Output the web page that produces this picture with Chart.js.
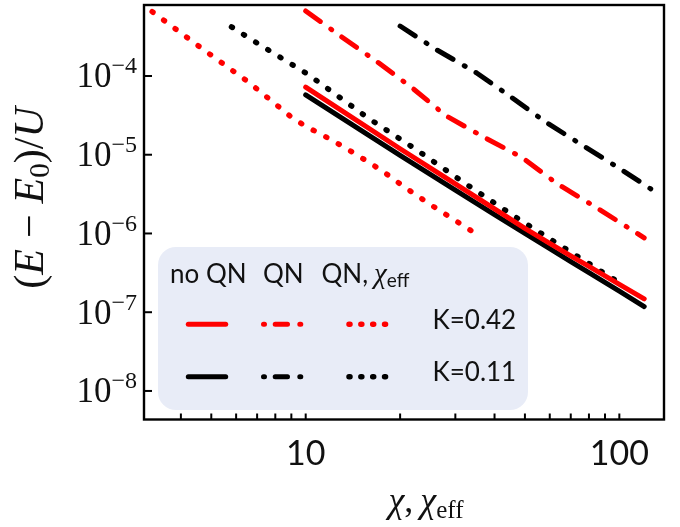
<!DOCTYPE html>
<html>
<head>
<meta charset="utf-8">
<script src="https://cdn.jsdelivr.net/npm/chart.js@4.4.1/dist/chart.umd.min.js"></script>
<style>
	html, body { margin: 0; padding: 0; background: #fff; }
	#wrap { width: 680px; height: 527px; }
</style>
</head>
<body>
<div id="wrap"><canvas id="chart" width="680" height="527"></canvas></div>
<script>

// values: chi (x) and (E - E0)/U (y)
const chiNoQN = [10, 20, 30, 40, 50, 60, 70, 80, 100, 120];
const errNoQN042 = [7.2e-5, 1.19e-5, 4.27e-6, 2.05e-6, 1.16e-6, 7.5e-7, 5.2e-7, 3.82e-7, 2.26e-7, 1.48e-7];
const errNoQN011 = [5.74e-5, 9.8e-6, 3.56e-6, 1.74e-6, 1.0e-6, 6.4e-7, 4.4e-7, 3.18e-7, 1.85e-7, 1.18e-7];

const chiQN042 = [10, 13, 17, 22, 28, 37, 49, 63, 83, 120];
const errQN042 = [6.7e-4, 3.15e-4, 1.49e-4, 6.9e-5, 3.13e-5, 1.67e-5, 9.2e-6, 4.34e-6, 2.23e-6, 8.8e-7];

const chiQN011 = [20, 26, 35, 45, 58, 76, 100, 131];
const errQN011 = [4.31e-4, 2.18e-4, 1.1e-4, 5.46e-5, 2.63e-5, 1.33e-5, 6.73e-6, 3.33e-6];

const chiEff042 = [3.24, 4.6, 6.6, 9.1, 10, 12.1, 14.6, 17.5, 20.9, 25.1, 36.1];
const errEff042 = [6.56e-4, 2.33e-4, 8.25e-5, 2.9e-5, 2.3e-5, 1.54e-5, 9.9e-6, 6.27e-6, 3.75e-6, 2.3e-6, 9.1e-7];

const chiEff011 = [5.8, 7.05, 10.2, 15.8, 22.6, 32.4, 46.5, 66.9, 96.8];
const errEff011 = [4.2e-4, 2.57e-4, 1.04e-4, 2.93e-5, 1.15e-5, 4.26e-6, 1.63e-6, 6.5e-7, 2.57e-7];

const yTickValues = [1e-4, 1e-5, 1e-6, 1e-7, 1e-8];
const yTickExponents = ['\u22124', '\u22125', '\u22126', '\u22127', '\u22128'];
const xMajorTicks = [10, 100];
const xMajorLabels = ['10', '100'];
const xMinorTicks = [4, 5, 6, 7, 8, 9, 20, 30, 40, 50, 60, 70, 80, 90];
const legendColumns = ['no QN', 'QN', 'QN,'];
const legendRows = ['K=0.42', 'K=0.11'];


const RED = '#ff0000';
const BLACK = '#000000';
const SOLID = [];
const DASHDOT = [18, 13, 1, 12.5];
const DOTTED = [1, 13.3];

function series(label, xs, ys, color, dash) {
	return {
		label: label,
		data: xs.map(function(x, i) { return {x: x, y: ys[i]}; }),
		borderColor: color,
		borderWidth: dash === DOTTED ? 5.5 : 5,
		borderDash: dash,
		borderCapStyle: 'round',
		borderJoinStyle: 'round',
		pointRadius: 0,
		tension: 0,
		fill: false,
		clip: 0
	};
}

const up = function(s) { return s + "px 'Liberation Serif'"; };
const it = function(s) { return "italic " + s + "px 'Liberation Serif'"; };
const sans = function(s) { return s + "px Lato"; };

function drawRich(ctx, parts, x, y, align) {
	let total = 0;
	parts.forEach(function(p) {
		ctx.font = p.font || up(10);
		p.w = (p.t ? ctx.measureText(p.t).width : 0) + (p.pad || 0);
		total += p.w;
	});
	let cx = align === 'center' ? x - total / 2 : (align === 'right' ? x - total : x);
	parts.forEach(function(p) {
		if(p.t) {
			ctx.font = p.font;
			ctx.fillText(p.t, cx, y + (p.dy || 0));
		}
		cx += p.w;
	});
}

function sample(ctx, color, dash, x0, x1, y, lw) {
	ctx.save();
	ctx.strokeStyle = color;
	ctx.lineWidth = lw || 5;
	ctx.lineCap = 'round';
	ctx.setLineDash(dash);
	ctx.beginPath();
	ctx.moveTo(x0, y);
	ctx.lineTo(x1, y);
	ctx.stroke();
	ctx.restore();
}

const decor = {
	id: 'decor',
	afterDatasetsDraw(chart) {
		const ctx = chart.ctx;
		const a = chart.chartArea;
		const xs = chart.scales.x;
		const ys = chart.scales.y;

		ctx.save();
		ctx.strokeStyle = '#000';

		// ticks pointing inward
		ctx.lineWidth = 2;
		yTickValues.forEach(function(v) {
			const py = ys.getPixelForValue(v);
			ctx.beginPath();
			ctx.moveTo(a.left, py);
			ctx.lineTo(a.left + 8, py);
			ctx.stroke();
		});
		xMinorTicks.concat(xMajorTicks).forEach(function(v) {
			const px = xs.getPixelForValue(v);
			ctx.beginPath();
			ctx.moveTo(px, a.bottom);
			ctx.lineTo(px, a.bottom - 6);
			ctx.stroke();
		});

		// frame
		ctx.lineWidth = 2.4;
		ctx.strokeRect(a.left, a.top, a.right - a.left, a.bottom - a.top);
		ctx.restore();
	},
	afterDraw(chart) {
		const ctx = chart.ctx;
		const xs = chart.scales.x;
		const ys = chart.scales.y;

		ctx.save();
		ctx.fillStyle = '#111';
		ctx.textBaseline = 'alphabetic';
		ctx.textAlign = 'left';

		// y tick labels 10^-n
		yTickValues.forEach(function(v, i) {
			const py = ys.getPixelForValue(v);
			drawRich(ctx, [
				{t: '10', font: up(35)},
				{t: yTickExponents[i], font: up(24), dy: -14}
			], 137, py + 11.5, 'right');
		});

		// x tick labels
		xMajorTicks.forEach(function(v, i) {
			ctx.font = sans(34);
			ctx.textAlign = 'center';
			ctx.fillText(xMajorLabels[i], xs.getPixelForValue(v), 465);
			ctx.textAlign = 'left';
		});

		// x axis title
		drawRich(ctx, [
			{t: '\u03c7', font: it(36)},
			{t: ',', font: up(36), pad: 7},
			{t: '\u03c7', font: it(36)},
			{t: 'eff', font: up(25), dy: 6}
		], 426, 512, 'center');

		// y axis title, rotated
		ctx.save();
		ctx.translate(43, 198);
		ctx.rotate(-Math.PI / 2);
		drawRich(ctx, [
			{t: '(', font: up(42)},
			{t: 'E', font: it(42), pad: 11},
			{t: '\u2212', font: up(42), pad: 11},
			{t: 'E', font: it(42)},
			{t: '0', font: up(29), dy: 6},
			{t: ')', font: up(42)},
			{t: '/', font: up(42)},
			{t: 'U', font: it(42)}
		], 0, 0, 'center');
		ctx.restore();

		// legend box
		const bx = 158, by = 247, bw = 370, bh = 163, r = 18;
		ctx.fillStyle = '#e8ecf7';
		ctx.beginPath();
		ctx.moveTo(bx + r, by);
		ctx.arcTo(bx + bw, by, bx + bw, by + bh, r);
		ctx.arcTo(bx + bw, by + bh, bx, by + bh, r);
		ctx.arcTo(bx, by + bh, bx, by, r);
		ctx.arcTo(bx, by, bx + bw, by, r);
		ctx.closePath();
		ctx.fill();

		// legend headers
		ctx.fillStyle = '#111';
		ctx.font = sans(26);
		ctx.fillText(legendColumns[0], 170, 283);
		ctx.fillText(legendColumns[1], 263, 283);
		drawRich(ctx, [
			{t: legendColumns[2], font: sans(26), pad: 6},
			{t: '\u03c7', font: it(29)},
			{t: 'eff', font: sans(19), dy: 4}
		], 321.5, 283, 'left');

		// legend samples
		const rows = [{y: 324.3, color: RED}, {y: 376.7, color: BLACK}];
		rows.forEach(function(row, i) {
			sample(ctx, row.color, SOLID, 188.3, 225.7, row.y);
			sample(ctx, row.color, [1, 10.7, 12.3, 12.3, 1, 100], 263.5, 301, row.y);
			sample(ctx, row.color, [1, 10.85], 349, 386, row.y, 5.5);
			ctx.font = sans(26);
			ctx.fillStyle = '#111';
			ctx.fillText(legendRows[i], 432.5, row.y + 4.5);
		});

		ctx.restore();
	}
};

new Chart(document.getElementById('chart'), {
	type: 'line',
	data: {
		datasets: [
			series('no QN, K=0.42', chiNoQN, errNoQN042, RED, SOLID),
			series('no QN, K=0.11', chiNoQN, errNoQN011, BLACK, SOLID),
			series('QN, K=0.42', chiQN042, errQN042, RED, DASHDOT),
			series('QN, K=0.11', chiQN011, errQN011, BLACK, DASHDOT),
			series('QN, chi_eff, K=0.42', chiEff042, errEff042, RED, DOTTED),
			series('QN, chi_eff, K=0.11', chiEff011, errEff011, BLACK, DOTTED)
		]
	},
	options: {
		responsive: false,
		animation: false,
		devicePixelRatio: 1,
		layout: {
			padding: {top: 5, right: 16, left: 0, bottom: 0}
		},
		plugins: {
			legend: {display: false},
			tooltip: {enabled: false}
		},
		scales: {
			x: {
				type: 'logarithmic',
				min: 3.051,
				max: 138.8,
				grid: {display: false},
				border: {display: false},
				ticks: {display: false},
				afterFit: function(scale) { scale.height = 107.5; }
			},
			y: {
				type: 'logarithmic',
				min: 4.34e-9,
				max: 7.97e-4,
				grid: {display: false},
				border: {display: false},
				ticks: {display: false},
				afterFit: function(scale) { scale.width = 144; }
			}
		}
	},
	plugins: [decor]
});
</script>
</body>
</html>
